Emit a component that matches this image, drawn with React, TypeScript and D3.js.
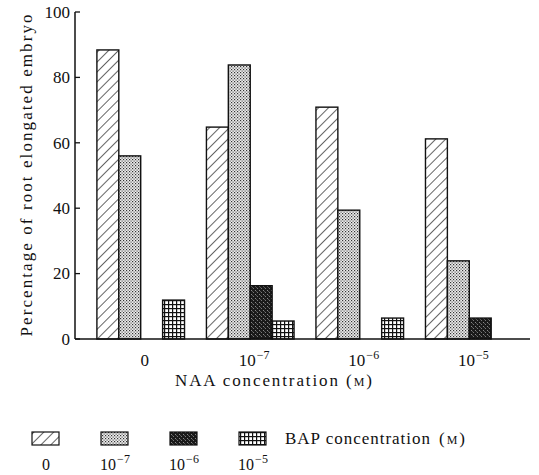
import * as d3 from 'd3';

// NAA concentration groups (x axis) — "base^exp" gives a superscript
const naaLevels = ['0', '10^-7', '10^-6', '10^-5'];

// BAP concentration series, one value per NAA group (% root elongated embryo)
const bapLevels = ['0', '10^-7', '10^-6', '10^-5'];
const bap0 = [88.4, 64.8, 70.9, 61.2];
const bap7 = [56, 83.8, 39.4, 23.9];
const bap6 = [0, 16.3, 0, 6.4];
const bap5 = [11.9, 5.5, 6.4, 0];

const yTicks = [0, 20, 40, 60, 80, 100];

const seriesValues = [bap0, bap7, bap6, bap5];
const patternIds = ['pat-hatch', 'pat-dots', 'pat-dark', 'pat-grid'];

const FONT = 'Liberation Serif';
const INK = '#111';

const width = 539;
const height = 475;
const plot = { left: 75, right: 535, top: 12, bottom: 339 };

// "10^-7" -> 10 with raised −7
function PowerLabel({ label, x, y, size }: { label: string; x: number; y: number; size: number }) {
  const [base, exp] = label.split('^');
  return (
    <text x={x} y={y} textAnchor="middle" fontFamily={FONT} fontSize={size} fill={INK}>
      <tspan>{base}</tspan>
      {exp && (
        <tspan dy={-7} dx={1} fontSize={12}>{exp.replace('-', '−')}</tspan>
      )}
    </text>
  );
}

function Patterns() {
  return (
    <defs>
      <pattern id="pat-hatch" patternUnits="userSpaceOnUse" width={7} height={7} patternTransform="rotate(45)">
        <rect width={7} height={7} fill="#fff" />
        <line x1={0} y1={0} x2={0} y2={7} stroke={INK} strokeWidth={1.3} />
      </pattern>
      <pattern id="pat-dots" patternUnits="userSpaceOnUse" width={3} height={3}>
        <rect width={3} height={3} fill="#eee" />
        <rect x={0} y={0} width={1.2} height={1.2} fill="#333" />
        <rect x={1.5} y={1.5} width={1.2} height={1.2} fill="#555" />
      </pattern>
      <pattern id="pat-dark" patternUnits="userSpaceOnUse" width={4} height={4}>
        <rect width={4} height={4} fill="#1a1a1a" />
        <rect x={1} y={0} width={1} height={1} fill="#777" />
        <rect x={3} y={2} width={1} height={1} fill="#888" />
        <rect x={0} y={3} width={1} height={1} fill="#555" />
      </pattern>
      <pattern id="pat-grid" patternUnits="userSpaceOnUse" width={4} height={4}>
        <rect width={4} height={4} fill="#fff" />
        <rect x={0} y={0} width={4} height={1.2} fill={INK} />
        <rect x={0} y={0} width={1.2} height={4} fill={INK} />
      </pattern>
    </defs>
  );
}

export default function App() {
  const x0 = d3.scaleBand<string>()
    .domain(naaLevels)
    .range([plot.left, plot.right])
    .paddingInner(0.2)
    .paddingOuter(0.2);
  const x1 = d3.scaleBand<string>()
    .domain(bapLevels)
    .range([0, x0.bandwidth()]);
  const y = d3.scaleLinear().domain([0, 100]).range([plot.bottom, plot.top]);

  const legendX = d3.scalePoint<string>().domain(bapLevels).range([46, 253]);

  return (
    <svg
      width={width}
      height={height}
      style={{ position: 'absolute', left: 0, top: 0, background: '#fff' }}
    >
      <Patterns />

      {/* bars */}
      <g>
        {naaLevels.map((naa, gi) =>
          bapLevels.map((bap, si) => {
            const v = seriesValues[si][gi];
            if (!v) return null;
            return (
              <rect
                key={`${gi}-${si}`}
                x={(x0(naa) ?? 0) + (x1(bap) ?? 0)}
                y={y(v)}
                width={x1.bandwidth()}
                height={y(0) - y(v)}
                fill={`url(#${patternIds[si]})`}
                stroke={INK}
                strokeWidth={1.4}
              />
            );
          })
        )}
      </g>

      {/* y axis, ticks pointing inward */}
      <line x1={plot.left} x2={plot.left} y1={y(0)} y2={y(100)} stroke={INK} strokeWidth={1.5} />
      {yTicks.map(t => (
        <g key={t}>
          <line x1={plot.left} x2={plot.left + 5} y1={y(t)} y2={y(t)} stroke={INK} strokeWidth={1.3} />
          <text
            x={plot.left - 5}
            y={y(t)}
            dy="0.34em"
            textAnchor="end"
            fontFamily={FONT}
            fontSize={17}
            fill={INK}
          >
            {t}
          </text>
        </g>
      ))}

      {/* x baseline */}
      <line x1={plot.left} x2={530} y1={y(0)} y2={y(0)} stroke={INK} strokeWidth={1.6} />

      {/* x category labels */}
      {naaLevels.map(naa => (
        <PowerLabel
          key={naa}
          label={naa}
          x={(x0(naa) ?? 0) + x0.bandwidth() / 2 + 4}
          y={366}
          size={17}
        />
      ))}

      {/* axis titles */}
      <text
        transform={`translate(32,${(plot.top + plot.bottom) / 2}) rotate(-90)`}
        textAnchor="middle"
        textLength={322}
        fontFamily={FONT}
        fontSize={17}
        fill={INK}
      >
        Percentage of root elongated embryo
      </text>

      <text x={175} y={386} textLength={163} fontFamily={FONT} fontSize={17} fill={INK}>
        NAA concentration
      </text>
      <text x={346} y={386} fontFamily={FONT} fontSize={17} fill={INK}>
        (<tspan dx={2} fontSize={12}>M</tspan><tspan dx={2}>)</tspan>
      </text>

      {/* legend */}
      {bapLevels.map((bap, si) => {
        const cx = legendX(bap) ?? 0;
        return (
          <g key={bap}>
            <rect
              x={cx - 14}
              y={432}
              width={27}
              height={13}
              fill={`url(#${patternIds[si]})`}
              stroke={INK}
              strokeWidth={1.2}
            />
            <PowerLabel label={bap} x={cx} y={470} size={16} />
          </g>
        );
      })}
      <text x={285} y={444} textLength={145} fontFamily={FONT} fontSize={17} fill={INK}>
        BAP concentration
      </text>
      <text x={439} y={444} fontFamily={FONT} fontSize={17} fill={INK}>
        (<tspan dx={2} fontSize={12}>M</tspan><tspan dx={2}>)</tspan>
      </text>
    </svg>
  );
}
